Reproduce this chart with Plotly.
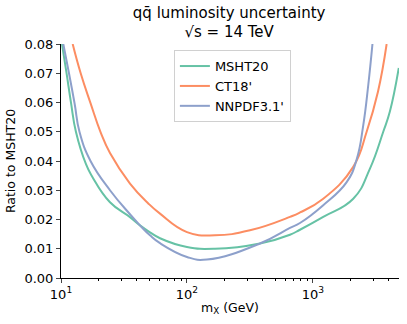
import plotly.graph_objects as go

# values (mass in GeV, ratio)
msht_m = [10.18, 11.06, 12.01, 13.15, 15.79, 17.62, 24.48, 35.29, 42.36, 50.85, 61.07, 100, 166.8,
          379.6, 657, 788.6, 1207, 2088, 2834, 3614, 4084, 4800]
msht_y = [0.0800, 0.0701, 0.0599, 0.0499, 0.0389, 0.0348, 0.0259, 0.0208, 0.0180, 0.0156, 0.0136, 0.0106, 0.0100,
          0.0118, 0.0148, 0.0165, 0.0209, 0.0271, 0.0374, 0.050, 0.057, 0.0718]

ct_m = [12.38, 14.33, 17.15, 20.6, 24.48, 35.29, 49.31, 61.07, 100, 166.8, 316.2, 657, 788.6,
        1207, 2088, 2668, 3281, 3845]
ct_y = [0.080, 0.070, 0.0598, 0.0499, 0.0427, 0.0323, 0.0255, 0.022, 0.0157, 0.0146, 0.0163, 0.0209, 0.0224,
        0.0271, 0.038, 0.050, 0.0637, 0.080]

nn_m = [10.43, 11.57, 12.84, 14.03, 17.15, 24.48, 35.29, 42.36, 50.85, 61.07, 100, 144.1, 379.6, 657, 788.6,
        1207, 1852, 2222, 2507, 2747, 2967]
nn_y = [0.080, 0.070, 0.0595, 0.0499, 0.040, 0.030, 0.0218, 0.0180, 0.0146, 0.0119, 0.0072, 0.0063, 0.0118, 0.0171, 0.0188,
        0.0249, 0.0328, 0.0405, 0.0522, 0.0659, 0.080]

series = [("MSHT20", msht_m, msht_y, "#66c2a5"),
          ("CT18'", ct_m, ct_y, "#fc8d62"),
          ("NNPDF3.1'", nn_m, nn_y, "#8da0cb")]

fig = go.Figure()
for name, m, y, col in series:
    fig.add_trace(go.Scatter(x=m, y=y, name=name, mode="lines",
                             line=dict(color=col, width=2, shape="spline", smoothing=1.3)))

minor_vals = [d * 10**e for e in (1, 2, 3) for d in range(2, 10)]

fig.update_layout(
    width=407, height=324,
    margin=dict(l=61, r=8, t=44, b=46),
    paper_bgcolor="white", plot_bgcolor="white",
    font=dict(family="DejaVu Sans", size=13, color="black"),
    title=dict(text="qq\u0304 luminosity uncertainty<br>\u221as = 14 TeV", x=0.563, xanchor="center",
               y=0.945, yanchor="top", font=dict(size=15)),
    showlegend=True,
    legend=dict(x=0.334, y=0.974, xanchor="left", yanchor="top",
                bordercolor="#d0d0d0", borderwidth=1, bgcolor="white",
                font=dict(size=13), tracegroupgap=0),
)
fig.update_xaxes(type="log", range=[1, 3.683], showline=True, linecolor="black", linewidth=1,
                 showgrid=False, zeroline=False, ticks="outside", ticklen=4, automargin=False,
                 tickvals=[10, 100, 1000], ticktext=["10<sup>1</sup>", "10<sup>2</sup>", "10<sup>3</sup>"],
                 minor=dict(tickvals=minor_vals, ticks="outside", ticklen=2, tickcolor="black", showgrid=False),
                 title=dict(text="m<sub>X</sub> (GeV)", standoff=2, font=dict(size=12.5)))
fig.update_yaxes(range=[0, 0.08], showline=True, linecolor="black", linewidth=1,
                 showgrid=False, zeroline=False, ticks="outside", ticklen=4, automargin=False,
                 dtick=0.01, tickformat=".2f",
                 title=dict(text="Ratio to MSHT20", standoff=6, font=dict(size=12.5)))

fig.write_html("out.html", config={"displayModeBar": False},
               post_script="document.body.style.margin='0';")
